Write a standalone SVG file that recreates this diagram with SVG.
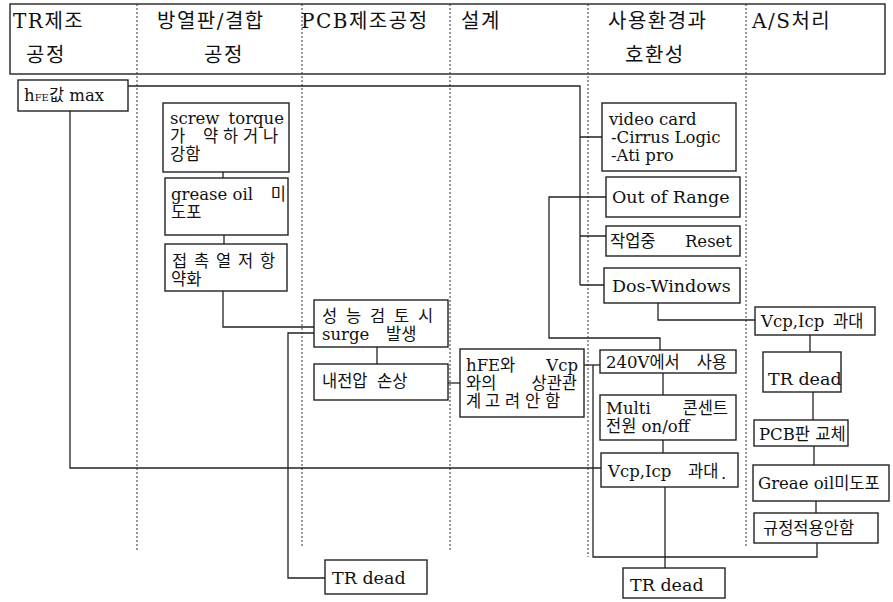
<svg xmlns="http://www.w3.org/2000/svg" width="893" height="602" viewBox="0 0 893 602">
<style>
.bx{fill:#fff;stroke:#222;stroke-width:1.4}
.ln{fill:none;stroke:#222;stroke-width:1.3}
.dl{fill:none;stroke:#333;stroke-width:1;stroke-dasharray:2,2}
text{font-family:"DejaVu Serif","Noto Sans CJK KR",serif;fill:#111}
.h{font-size:20px;letter-spacing:1.5px}
.t{font-size:16.5px}
.b{font-size:17.5px}
.e{text-anchor:end}
</style>
<rect width="893" height="602" fill="#fff"/>
<g id="header">
<rect class="bx" x="10" y="4" width="875" height="70" fill="none"/>
<text class="h" x="13" y="28">TR제조</text>
<text class="h" x="26" y="62">공정</text>
<text class="h" x="157" y="28">방열판/결합</text>
<text class="h" x="204" y="62">공정</text>
<text class="h" x="301" y="28" letter-spacing="1">PCB제조공정</text>
<text class="h" x="461" y="28">설계</text>
<text class="h" x="608" y="28">사용환경과</text>
<text class="h" x="625" y="62">호환성</text>
<text class="h" x="752" y="28">A/S처리</text>
</g>
<g id="columns">
<line class="dl" x1="137" y1="4" x2="137" y2="551"/>
<line class="dl" x1="302" y1="4" x2="302" y2="547"/>
<line class="dl" x1="450" y1="4" x2="450" y2="550"/>
<line class="dl" x1="588" y1="4" x2="588" y2="557"/>
<line class="dl" x1="746" y1="4" x2="746" y2="548"/>
</g>
<g id="connectors">
<path class="ln" d="M128,86 H580 V285"/>
<path class="ln" d="M580,137 H602 M580,197 H606 M580,236 H606 M580,285 H604"/>
<path class="ln" d="M660,350 V338 H549 V197 H580"/>
<path class="ln" d="M658,303 V320 H755"/>
<path class="ln" d="M810,335 V352 M813,392 V420 M814,446 V465 M816,501 V513"/>
<path class="ln" d="M817,543 V557 H593 V365"/>
<path class="ln" d="M584,365 H600"/>
<path class="ln" d="M70,111 V468 H601"/>
<path class="ln" d="M223,172 V178 M224,235 V244"/>
<path class="ln" d="M223,291 V327 H314"/>
<path class="ln" d="M314,333 H288 V578 H325"/>
<path class="ln" d="M377,347 V364"/>
<path class="ln" d="M448,383 H460"/>
<path class="ln" d="M663,373 V395 M663,440 V453 M665,487 V568"/>
</g>
<g id="n_hfe">
<rect class="bx" x="18" y="80" width="110" height="31"/>
<text class="t" x="24" y="101">h<tspan font-size="10">FE</tspan>값 max</text>
</g>
<g id="n_screw">
<rect class="bx" x="163" y="103" width="126" height="69"/>
<text class="t" x="170" y="124">screw</text>
<text class="t e" x="284" y="124">torque</text>
<text class="t" x="170" y="142">가</text>
<text class="t" x="203 223 243 263" y="142">약하거나</text>
<text class="t" x="170" y="160">강함</text>
</g>
<g id="n_grease">
<rect class="bx" x="165" y="178" width="123" height="57"/>
<text class="t" x="171" y="200">grease oil</text>
<text class="t e" x="286" y="200">미</text>
<text class="t" x="171" y="218">도포</text>
</g>
<g id="n_contact">
<rect class="bx" x="165" y="244" width="122" height="47"/>
<text class="t" x="172 194 216 238 260" y="267">접촉열저항</text>
<text class="t" x="171" y="285">약화</text>
</g>
<g id="n_surge">
<rect class="bx" x="314" y="300" width="134" height="47"/>
<text class="t" x="322 346 370 394 418" y="322">성능검토시</text>
<text class="t" x="322" y="340">surge</text>
<text class="t" x="386" y="340">발생</text>
</g>
<g id="n_volt">
<rect class="bx" x="314" y="364" width="134" height="36"/>
<text class="t" x="322" y="387">내전압</text>
<text class="t" x="377" y="387">손상</text>
</g>
<g id="n_trdead1">
<rect class="bx" x="325" y="560" width="102" height="34"/>
<text class="b" x="332" y="584">TR dead</text>
</g>
<g id="n_design">
<rect class="bx" x="460" y="349" width="124" height="68"/>
<text class="t" x="466" y="371">hFE와</text>
<text class="t e" x="578" y="371">Vcp</text>
<text class="t" x="466" y="389">와의</text>
<text class="t e" x="577" y="389">상관관</text>
<text class="t" x="466" y="407">계</text>
<text class="t" x="485 505 525 545" y="407">고려안함</text>
</g>
<g id="n_video">
<rect class="bx" x="602" y="103" width="134" height="68"/>
<text class="t" x="609" y="125">video card</text>
<text class="t" x="611" y="143">-Cirrus Logic</text>
<text class="t" x="611" y="161">-Ati pro</text>
</g>
<g id="n_range">
<rect class="bx" x="606" y="177" width="134" height="40"/>
<text class="b" x="612" y="203">Out of Range</text>
</g>
<g id="n_reset">
<rect class="bx" x="606" y="226" width="134" height="30"/>
<text class="t" x="610" y="247">작업중</text>
<text class="t e" x="732" y="247">Reset</text>
</g>
<g id="n_dos">
<rect class="bx" x="604" y="268" width="136" height="35"/>
<text class="b" x="612" y="292">Dos-Windows</text>
</g>
<g id="n_240v">
<rect class="bx" x="600" y="350" width="136" height="23"/>
<text class="t" x="606" y="368">240V에서</text>
<text class="t e" x="727" y="368">사용</text>
</g>
<g id="n_multi">
<rect class="bx" x="600" y="395" width="136" height="45"/>
<text class="t" x="606" y="414">Multi</text>
<text class="t e" x="728" y="414">콘센트</text>
<text class="t" x="606" y="432">전원 on/off</text>
</g>
<g id="n_vcp1">
<rect class="bx" x="601" y="453" width="137" height="34"/>
<text class="t" x="608" y="477">Vcp,Icp</text>
<text class="t" x="688" y="477">과대</text>
<text class="t" x="721" y="479">.</text>
</g>
<g id="n_trdead2">
<rect class="bx" x="623" y="568" width="102" height="30"/>
<text class="b" x="630" y="591">TR dead</text>
</g>
<g id="n_vcp2">
<rect class="bx" x="755" y="307" width="120" height="28"/>
<text class="t" x="761" y="327">Vcp,Icp</text>
<text class="t" x="833" y="327">과대</text>
</g>
<g id="n_trdead3">
<rect class="bx" x="763" y="352" width="78" height="40"/>
<text class="b" x="768" y="385">TR dead</text>
</g>
<g id="n_pcb">
<rect class="bx" x="754" y="420" width="94" height="26"/>
<text class="t" x="759" y="440">PCB판 교체</text>
</g>
<g id="n_greae">
<rect class="bx" x="753" y="465" width="136" height="36"/>
<text class="t" x="758" y="489">Greae oil미도포</text>
</g>
<g id="n_rule">
<rect class="bx" x="754" y="513" width="124" height="30"/>
<text class="t" x="763" y="534">규정적용안함</text>
</g>
</svg>
